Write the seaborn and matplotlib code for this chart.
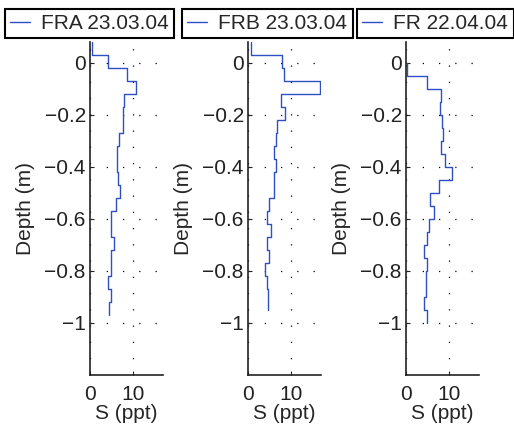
import numpy as np
import pandas as pd
import seaborn as sns
import matplotlib
matplotlib.use("Agg")
import matplotlib.pyplot as plt

# layer boundaries (m) and salinity per layer (ppt) for each profile
fra_depth = [0.08, 0.03, -0.02, -0.07, -0.12, -0.17, -0.22, -0.27, -0.32, -0.37, -0.42,
             -0.47, -0.52, -0.57, -0.62, -0.67, -0.72, -0.77, -0.82, -0.87, -0.92, -0.97]
fra_sal = [0.4, 4.3, 8.7, 10.6, 8.0, 7.8, 7.6, 6.8, 6.4, 6.4, 6.5,
           6.9, 6.1, 4.8, 4.9, 5.6, 4.8, 4.8, 4.2, 4.8, 4.4]

frb_depth = [0.08, 0.03, -0.02, -0.07, -0.12, -0.17, -0.22, -0.27, -0.32, -0.37, -0.42,
             -0.47, -0.52, -0.57, -0.62, -0.67, -0.72, -0.77, -0.82, -0.87, -0.95]
frb_sal = [0.75, 8.0, 8.4, 16.8, 7.8, 8.6, 6.7, 6.5, 6.0, 6.5,
           6.0, 6.1, 4.8, 4.4, 5.3, 4.4, 4.8, 4.0, 4.5, 4.6]

fr_depth = [0.0, -0.05, -0.10, -0.15, -0.20, -0.25, -0.30, -0.35, -0.40, -0.45, -0.50,
            -0.55, -0.60, -0.65, -0.70, -0.75, -0.80, -0.85, -0.90, -0.95, -1.00]
fr_sal = [0.2, 5.0, 8.2, 8.0, 8.4, 8.5, 8.1, 9.1, 10.6, 7.8,
          5.7, 6.5, 5.3, 4.8, 4.2, 5.0, 4.6, 4.6, 4.1, 4.8]

labels = ['FRA 23.03.04', 'FRB 23.03.04', 'FR 22.04.04']
yticks = [0, -0.2, -0.4, -0.6, -0.8, -1]
ytick_labels = ['0', '\u22120.2', '\u22120.4', '\u22120.6', '\u22120.8', '\u22121']
xticks = [0, 10]


def stairs(depth, sal):
    # turn layer boundaries + layer values into a vertical step profile
    xs, ys = [], []
    for i, s in enumerate(sal):
        xs += [s, s]
        ys += [depth[i], depth[i + 1]]
    return pd.DataFrame({'S': xs, 'Depth': ys})


sns.set_style("ticks")
plt.rcParams['font.family'] = ['Liberation Sans', 'DejaVu Sans']

fig = plt.figure(figsize=(5.14, 4.29), dpi=100)

profiles = [(fra_depth, fra_sal), (frb_depth, frb_sal), (fr_depth, fr_sal)]
ax_left = [90, 248, 406]
leg_left = [5, 182, 357]

for k, (depth, sal) in enumerate(profiles):
    ax = fig.add_axes([ax_left[k] / 514, 1 - 375 / 429, 73 / 514, 333 / 429])
    df = stairs(depth, sal)
    sns.lineplot(data=df, x='S', y='Depth', sort=False, estimator=None, ax=ax,
                 color='#2f4fc4', linewidth=1.0, label=labels[k])
    ax.set_xlim(0, 17)
    ax.set_ylim(-1.2, 0.08)
    ax.set_xticks(xticks)
    ax.set_yticks(yticks)
    ax.set_yticklabels(ytick_labels)
    ax.tick_params(direction='in', length=3, labelsize=15, colors='#222222', pad=3)
    ax.tick_params(axis='x', pad=7)
    ax.set_xlabel('S (ppt)', fontsize=15, labelpad=0)
    ax.set_ylabel('Depth (m)', fontsize=15, labelpad=7)
    sns.despine(ax=ax)
    for sp in ['left', 'bottom']:
        ax.spines[sp].set_linewidth(1.2)
        ax.spines[sp].set_color('#222222')
    ax.grid(True, color='black', linestyle=(0, (1, 12)), linewidth=0.9)
    leg = ax.legend(loc='upper left', bbox_to_anchor=(leg_left[k] / 514, 1 - 9 / 429),
                    bbox_transform=fig.transFigure, fontsize=15, frameon=True,
                    fancybox=False, borderpad=0.25, borderaxespad=0,
                    handlelength=0.95, handletextpad=0.55)
    leg.get_frame().set_edgecolor('black')
    leg.get_frame().set_linewidth(1.5)
    leg.get_frame().set_alpha(1)

fig.savefig('out.png', dpi=100)
